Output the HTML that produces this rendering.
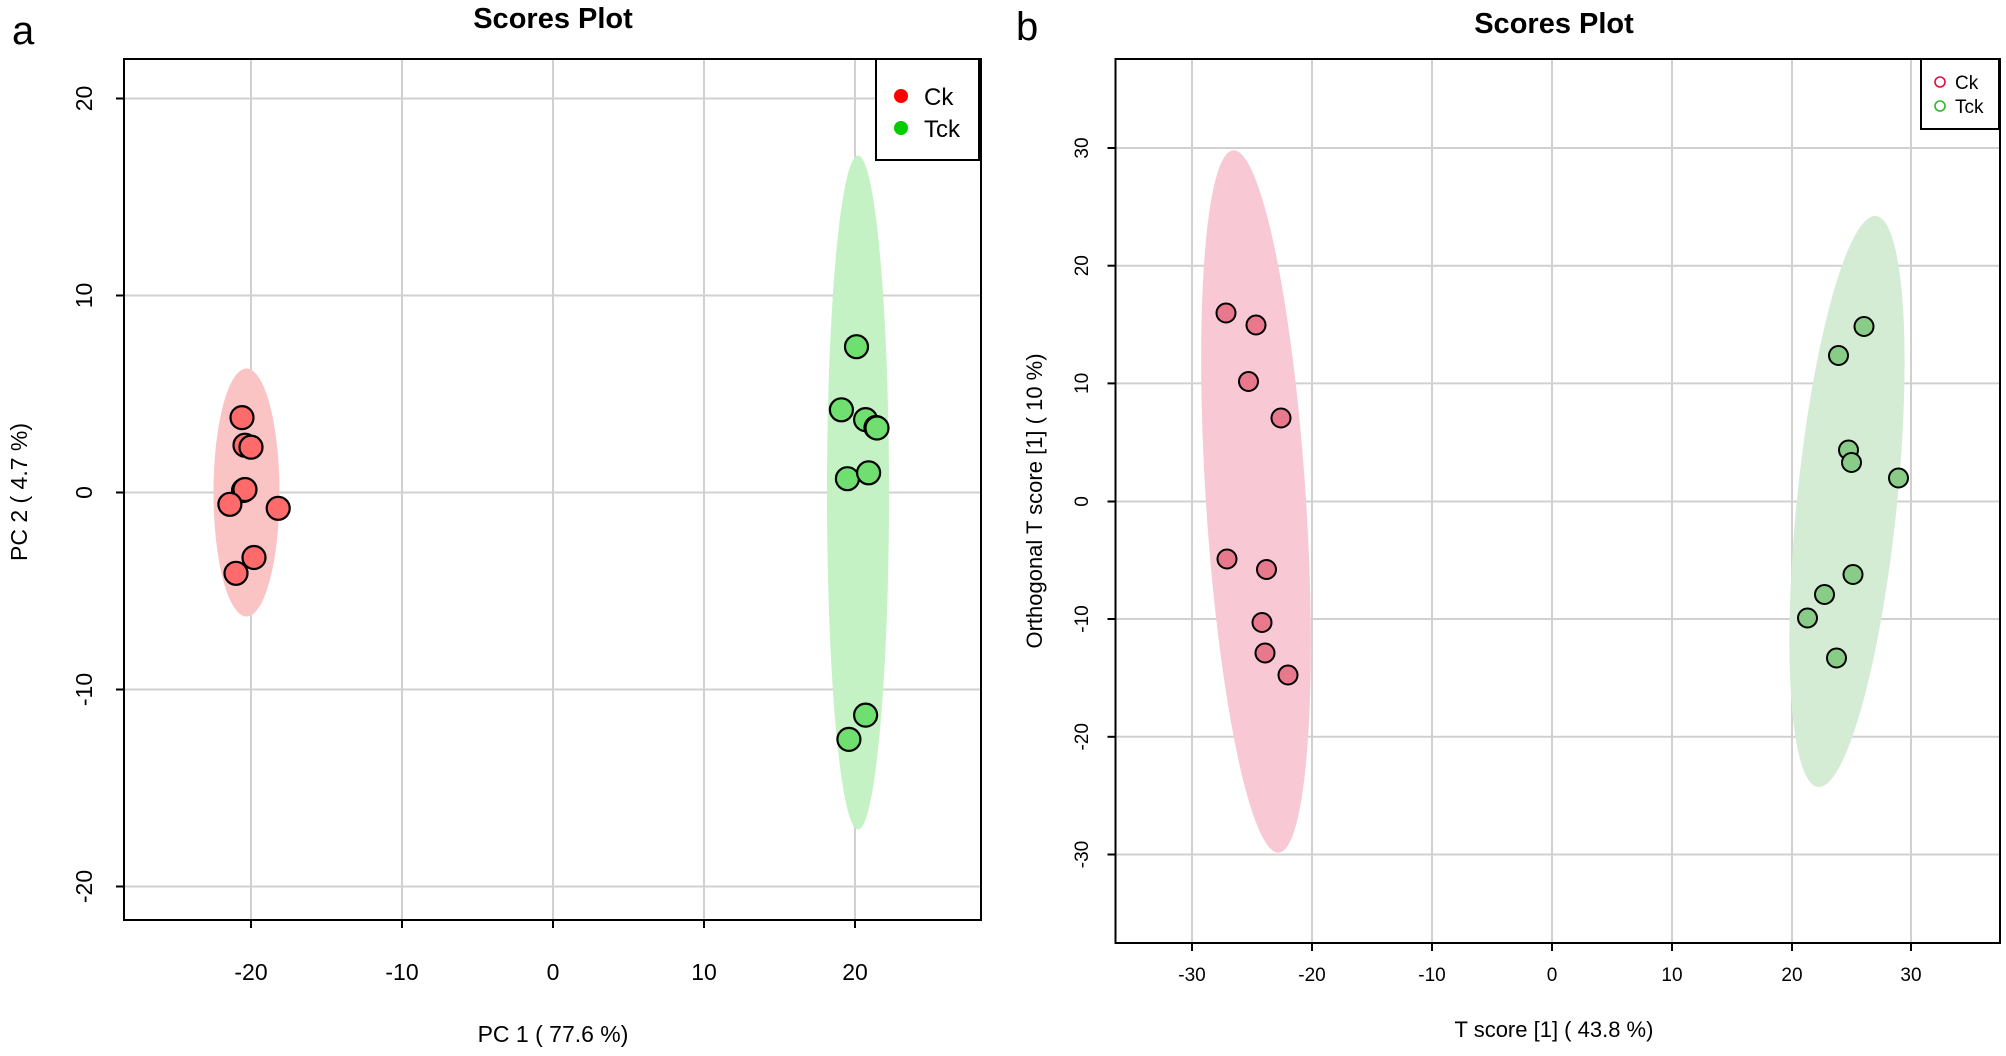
<!DOCTYPE html>
<html><head><meta charset="utf-8"><style>body{margin:0;background:#fff}svg{display:block}text{font-family:"Liberation Sans",Arial,sans-serif}</style></head><body>
<svg width="2006" height="1056" viewBox="0 0 2006 1056" xmlns="http://www.w3.org/2000/svg">
<rect width="2006" height="1056" fill="#fff"/>
<!-- Panel a -->
<text x="12" y="44" font-size="40">a</text>
<text x="553" y="28" font-size="29" font-weight="bold" text-anchor="middle">Scores Plot</text>
<g stroke="#d0d0d0" stroke-width="2">
<line x1="251" y1="59" x2="251" y2="920"/><line x1="402" y1="59" x2="402" y2="920"/><line x1="553" y1="59" x2="553" y2="920"/><line x1="704" y1="59" x2="704" y2="920"/><line x1="855" y1="59" x2="855" y2="920"/>
<line x1="124" y1="98.5" x2="981" y2="98.5"/><line x1="124" y1="295.5" x2="981" y2="295.5"/><line x1="124" y1="492.5" x2="981" y2="492.5"/><line x1="124" y1="689.5" x2="981" y2="689.5"/><line x1="124" y1="886.5" x2="981" y2="886.5"/>
</g>
<ellipse cx="246.5" cy="492.5" rx="33" ry="124" fill="#fbc4c4"/>
<ellipse cx="858" cy="492.5" rx="31" ry="337" fill="#c4f2c4"/>
<g stroke="#000" stroke-width="2.2" fill="#ff6b6b">
<circle cx="242" cy="417.6" r="11.5"/><circle cx="245" cy="445.2" r="11.5"/><circle cx="251" cy="447.2" r="11.5"/><circle cx="243.5" cy="490.5" r="11.5"/><circle cx="245" cy="489.5" r="11.5"/><circle cx="229.9" cy="504.3" r="11.5"/><circle cx="278.2" cy="508.3" r="11.5"/><circle cx="254" cy="557.5" r="11.5"/><circle cx="236" cy="573.3" r="11.5"/>
</g>
<g stroke="#000" stroke-width="2.2" fill="#6fe06f">
<circle cx="856.5" cy="346.7" r="11.5"/><circle cx="841.4" cy="409.8" r="11.5"/><circle cx="865.6" cy="419.6" r="11.5"/><circle cx="876" cy="427.5" r="11.5"/><circle cx="877" cy="428" r="11.5"/><circle cx="847.4" cy="478.7" r="11.5"/><circle cx="868.6" cy="472.8" r="11.5"/><circle cx="865.6" cy="715.1" r="11.5"/><circle cx="848.9" cy="739.4" r="11.5"/>
</g>
<rect x="124" y="59" width="857" height="861" fill="none" stroke="#000" stroke-width="2"/>
<rect x="876" y="59" width="103" height="101" fill="#fff" stroke="#000" stroke-width="2"/>
<circle cx="901" cy="96" r="7" fill="#ff0000"/><text x="924" y="105" font-size="24">Ck</text>
<circle cx="901" cy="128" r="7" fill="#00cc00"/><text x="924" y="137" font-size="24">Tck</text>
<g stroke="#000" stroke-width="2">
<line x1="251" y1="920" x2="251" y2="928"/><line x1="402" y1="920" x2="402" y2="928"/><line x1="553" y1="920" x2="553" y2="928"/><line x1="704" y1="920" x2="704" y2="928"/><line x1="855" y1="920" x2="855" y2="928"/>
<line x1="116" y1="98.5" x2="124" y2="98.5"/><line x1="116" y1="295.5" x2="124" y2="295.5"/><line x1="116" y1="492.5" x2="124" y2="492.5"/><line x1="116" y1="689.5" x2="124" y2="689.5"/><line x1="116" y1="886.5" x2="124" y2="886.5"/>
</g>
<g font-size="23" text-anchor="middle">
<text x="251" y="980">-20</text><text x="402" y="980">-10</text><text x="553" y="980">0</text><text x="704" y="980">10</text><text x="855" y="980">20</text>
<text transform="translate(92,98.5) rotate(-90)">20</text><text transform="translate(92,295.5) rotate(-90)">10</text><text transform="translate(92,492.5) rotate(-90)">0</text><text transform="translate(92,689.5) rotate(-90)">-10</text><text transform="translate(92,886.5) rotate(-90)">-20</text>
<text x="553" y="1042">PC 1 ( 77.6 %)</text>
<text transform="translate(27,492) rotate(-90)">PC 2 ( 4.7 %)</text>
</g>
<!-- Panel b -->
<text x="1016" y="40" font-size="40">b</text>
<text x="1554" y="33" font-size="29" font-weight="bold" text-anchor="middle">Scores Plot</text>
<g stroke="#d0d0d0" stroke-width="2">
<line x1="1192" y1="59" x2="1192" y2="943"/><line x1="1312" y1="59" x2="1312" y2="943"/><line x1="1432" y1="59" x2="1432" y2="943"/><line x1="1552" y1="59" x2="1552" y2="943"/><line x1="1672" y1="59" x2="1672" y2="943"/><line x1="1792" y1="59" x2="1792" y2="943"/><line x1="1911" y1="59" x2="1911" y2="943"/>
<line x1="1115.5" y1="148" x2="2000" y2="148"/><line x1="1115.5" y1="265.7" x2="2000" y2="265.7"/><line x1="1115.5" y1="383.4" x2="2000" y2="383.4"/><line x1="1115.5" y1="501.5" x2="2000" y2="501.5"/><line x1="1115.5" y1="619" x2="2000" y2="619"/><line x1="1115.5" y1="736.8" x2="2000" y2="736.8"/><line x1="1115.5" y1="854.5" x2="2000" y2="854.5"/>
</g>
<ellipse cx="1256" cy="501.5" rx="50" ry="352" fill="#f8c8d4" transform="rotate(-3.7 1256 501.5)"/>
<ellipse cx="1847" cy="501.5" rx="50" ry="287" fill="#d4ecd4" transform="rotate(5.8 1847 501.5)"/>
<g stroke="#000" stroke-width="2" fill="#e8788c">
<circle cx="1226" cy="313" r="9.5"/><circle cx="1256" cy="325" r="9.5"/><circle cx="1248.5" cy="381.5" r="9.5"/><circle cx="1281" cy="418" r="9.5"/><circle cx="1227" cy="559" r="9.5"/><circle cx="1266.5" cy="569.5" r="9.5"/><circle cx="1262" cy="622.5" r="9.5"/><circle cx="1265" cy="653" r="9.5"/><circle cx="1288" cy="675" r="9.5"/>
</g>
<g stroke="#000" stroke-width="2" fill="#88cc88">
<circle cx="1864" cy="326.5" r="9.5"/><circle cx="1838.5" cy="355.5" r="9.5"/><circle cx="1848.5" cy="450" r="9.5"/><circle cx="1851.5" cy="462.5" r="9.5"/><circle cx="1898.5" cy="478" r="9.5"/><circle cx="1853" cy="574.5" r="9.5"/><circle cx="1824.5" cy="594.5" r="9.5"/><circle cx="1807.5" cy="618" r="9.5"/><circle cx="1836.5" cy="658" r="9.5"/>
</g>
<rect x="1115.5" y="59" width="884.5" height="884" fill="none" stroke="#000" stroke-width="2"/>
<rect x="1921" y="59" width="78" height="70" fill="#fff" stroke="#000" stroke-width="2"/>
<circle cx="1940" cy="82" r="5" fill="none" stroke="#e0103a" stroke-width="1.6"/><text x="1955" y="89" font-size="19">Ck</text>
<circle cx="1940" cy="106" r="5" fill="none" stroke="#2eb82e" stroke-width="1.6"/><text x="1955" y="113" font-size="19">Tck</text>
<g stroke="#000" stroke-width="2">
<line x1="1192" y1="943" x2="1192" y2="951"/><line x1="1312" y1="943" x2="1312" y2="951"/><line x1="1432" y1="943" x2="1432" y2="951"/><line x1="1552" y1="943" x2="1552" y2="951"/><line x1="1672" y1="943" x2="1672" y2="951"/><line x1="1792" y1="943" x2="1792" y2="951"/><line x1="1911" y1="943" x2="1911" y2="951"/>
<line x1="1107.5" y1="148" x2="1115.5" y2="148"/><line x1="1107.5" y1="265.7" x2="1115.5" y2="265.7"/><line x1="1107.5" y1="383.4" x2="1115.5" y2="383.4"/><line x1="1107.5" y1="501.5" x2="1115.5" y2="501.5"/><line x1="1107.5" y1="619" x2="1115.5" y2="619"/><line x1="1107.5" y1="736.8" x2="1115.5" y2="736.8"/><line x1="1107.5" y1="854.5" x2="1115.5" y2="854.5"/>
</g>
<g font-size="19" text-anchor="middle">
<text x="1192" y="981">-30</text><text x="1312" y="981">-20</text><text x="1432" y="981">-10</text><text x="1552" y="981">0</text><text x="1672" y="981">10</text><text x="1792" y="981">20</text><text x="1911" y="981">30</text>
<text transform="translate(1088,148) rotate(-90)">30</text><text transform="translate(1088,265.7) rotate(-90)">20</text><text transform="translate(1088,383.4) rotate(-90)">10</text><text transform="translate(1088,501.5) rotate(-90)">0</text><text transform="translate(1088,619) rotate(-90)">-10</text><text transform="translate(1088,736.8) rotate(-90)">-20</text><text transform="translate(1088,854.5) rotate(-90)">-30</text>
</g>
<text x="1554" y="1037" font-size="22" text-anchor="middle">T score [1] ( 43.8 %)</text>
<text transform="translate(1042,501) rotate(-90)" font-size="22" text-anchor="middle">Orthogonal T score [1] ( 10 %)</text>
</svg>
</body></html>
